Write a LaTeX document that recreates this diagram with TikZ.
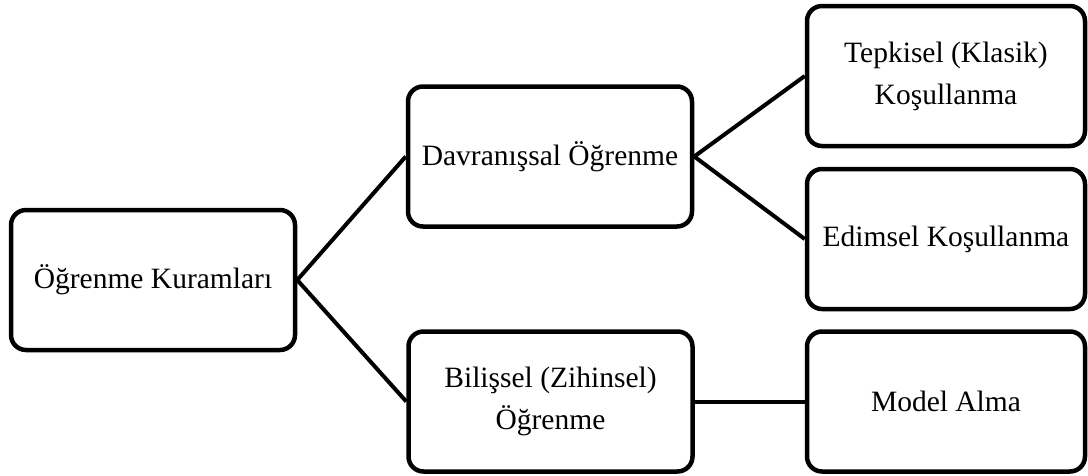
\documentclass[tikz,border=0pt]{standalone}
\usepackage{fontspec}
\setmainfont{Liberation Serif}
\begin{document}
\begin{tikzpicture}[x=1pt,y=-1pt,
  box/.style={draw=black, fill=white, line width=4.5pt, rounded corners=15pt,
    minimum height=140pt, align=center,
    font=\fontsize{29.5}{42}\selectfont, inner sep=0pt},
  wide/.style={box, minimum width=284pt},
  narrow/.style={box, minimum width=278pt},
  link/.style={draw=black, line width=4pt}]
  \useasboundingbox (0,0) rectangle (1088,475);

  % tree of learning theories, left to right
  \node[wide]   (root) at (153,280)   {Öğrenme Kuramları};
  \node[wide]   (dav)  at (550,156.5) {Davranışsal Öğrenme};
  \node[wide]   (bil)  at (550.5,401.5) {Bilişsel (Zihinsel)\\Öğrenme};
  \node[narrow] (tep)  at (946,76)    {Tepkisel (Klasik)\\Koşullanma};
  \node[narrow] (edi)  at (946,239)   {Edimsel Koşullanma};
  \node[narrow] (mod)  at (946,401.5) {Model Alma};

  \draw[link] (root.east) -- (dav.west);
  \draw[link] (root.east) -- (bil.west);
  \draw[link] (dav.east) -- (tep.west);
  \draw[link] (dav.east) -- (edi.west);
  \draw[link] (bil.east) -- (mod.west);
\end{tikzpicture}
\end{document}
